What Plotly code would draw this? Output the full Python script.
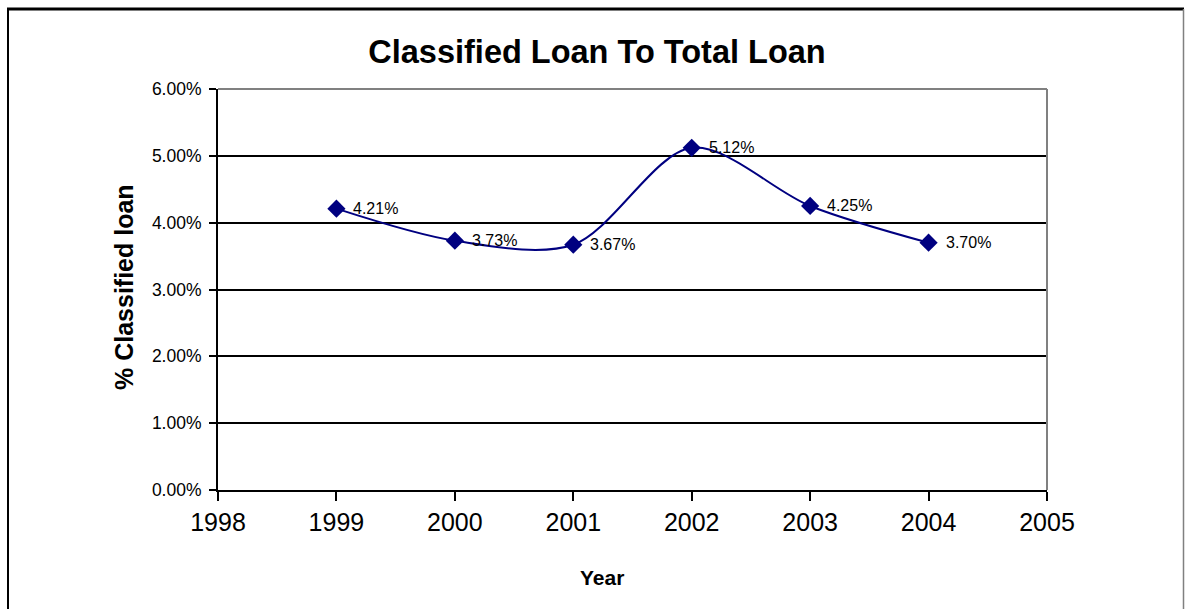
import plotly.graph_objects as go

years = [1999, 2000, 2001, 2002, 2003, 2004]
ratio = [0.0421, 0.0373, 0.0367, 0.0512, 0.0425, 0.0370]
labels = ["4.21%", "3.73%", "3.67%", "5.12%", "4.25%", "3.70%"]
y_ticks = [0, 0.01, 0.02, 0.03, 0.04, 0.05, 0.06]
x_ticks = [1998, 1999, 2000, 2001, 2002, 2003, 2004, 2005]

NAVY = "#000080"
FONT = "Liberation Sans, Arial, sans-serif"

W, H = 1185, 609
L, R, T, B = 218, 138, 89, 119
pw, ph = W - L - R, H - T - B
def px(xp):
    return (xp - L) / pw
def py(yp):
    return (H - B - yp) / ph

fig = go.Figure()
fig.add_trace(go.Scatter(
    x=years, y=ratio, mode="lines+markers",
    line=dict(color=NAVY, width=2, shape="spline", smoothing=0.9),
    marker=dict(symbol="diamond", size=14, color=NAVY),
    hoverinfo="skip", showlegend=False,
))

for xv, yv, t in zip(years, ratio, labels):
    fig.add_annotation(x=xv, y=yv, text=t, showarrow=False, xanchor="left",
                       yanchor="middle", xshift=15, font=dict(family=FONT, size=16, color="black"))

# axis titles
fig.add_annotation(xref="paper", yref="paper", x=px(602), y=py(577), text="<b>Year</b>",
                   showarrow=False, xanchor="center", yanchor="middle",
                   font=dict(family=FONT, size=21, color="black"))
fig.add_annotation(xref="paper", yref="paper", x=px(124), y=py(287), text="<b>% Classified loan</b>",
                   showarrow=False, xanchor="center", yanchor="middle", textangle=-90,
                   font=dict(family=FONT, size=25, color="black"))

# plot area top/right border (gray)
fig.add_shape(type="line", xref="paper", yref="paper", x0=0, x1=1, y0=1, y1=1,
              line=dict(color="#808080", width=2))
fig.add_shape(type="line", xref="paper", yref="paper", x0=1, x1=1, y0=0, y1=1,
              line=dict(color="#808080", width=2))

# figure border
fig.add_shape(type="line", xref="paper", yref="paper", x0=px(8), x1=px(8), y0=py(9), y1=py(615),
              line=dict(color="black", width=2))
fig.add_shape(type="line", xref="paper", yref="paper", x0=px(7), x1=px(1184), y0=py(9), y1=py(9),
              line=dict(color="black", width=3))
fig.add_shape(type="line", xref="paper", yref="paper", x0=px(1183.5), x1=px(1183.5), y0=py(9), y1=py(615),
              line=dict(color="#808080", width=1.5))

fig.update_layout(
    width=W, height=H,
    margin=dict(l=L, r=R, t=T, b=B),
    paper_bgcolor="white", plot_bgcolor="white",
    font=dict(family=FONT, color="black"),
    title=dict(text="<b>Classified Loan To Total Loan</b>", x=597 / W, xanchor="center",
               y=1 - 52 / H, yanchor="middle", font=dict(size=32.5, family=FONT, color="black")),
    xaxis=dict(range=[1998, 2005], tickvals=x_ticks, ticktext=[str(v) for v in x_ticks],
               showgrid=False, zeroline=False, showline=True, linecolor="black", linewidth=2,
               ticks="outside", ticklen=9, tickwidth=2, tickcolor="black",
               tickfont=dict(size=25, family=FONT, color="black")),
    yaxis=dict(range=[0, 0.06], tickvals=y_ticks, tickformat=".2%",
               showgrid=True, gridcolor="black", gridwidth=2, zeroline=False,
               showline=True, linecolor="black", linewidth=2,
               ticks="outside", ticklen=7, tickwidth=2, tickcolor="black",
               ticklabelstandoff=4,
               tickfont=dict(size=17.5, family=FONT, color="black")),
)

fig.write_html("out.html")
